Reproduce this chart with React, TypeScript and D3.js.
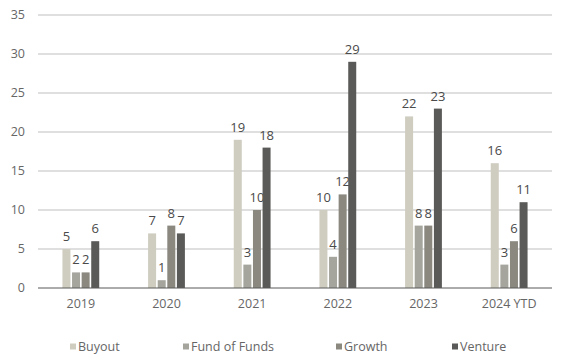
import React from "react";
import * as d3 from "d3";

const categories = ["2019", "2020", "2021", "2022", "2023", "2024 YTD"];
const seriesNames = ["Buyout", "Fund of Funds", "Growth", "Venture"];
const buyout = [5, 7, 19, 10, 22, 16];
const fundOfFunds = [2, 1, 3, 4, 8, 3];
const growth = [2, 8, 10, 12, 8, 6];
const venture = [6, 7, 18, 29, 23, 11];
const yTicks = [0, 5, 10, 15, 20, 25, 30, 35];
const colors = ["#cfcdc0", "#a6a59d", "#8a887f", "#5a5b59"];

const W = 580, H = 359;
const left = 38, right = 552, top = 15, bottom = 288;
const font = "'Open Sans', 'Noto Sans', sans-serif";

export default function App() {
  const series = [buyout, fundOfFunds, growth, venture];
  const x = d3.scaleBand<string>().domain(categories).range([left, right]);
  const y = d3.scaleLinear().domain([0, 35]).range([bottom, top]);
  const stride = 9.6, bw = 8;
  const legendX = [70, 183, 336, 452];
  return (
    <svg width={W} height={H} style={{ position: "absolute", left: 0, top: 0 }}>
      <rect width={W} height={H} fill="#fff" />
      {yTicks.map((t) => (
        <g key={t}>
          {t !== 0 && (
            <line x1={left} x2={right} y1={y(t)} y2={y(t)} stroke="#bfbfbf" strokeWidth={1} />
          )}
          <text x={25} y={y(t)} dy="0.35em" textAnchor="end" fontSize={12.5} fill="#666" fontFamily={font}>
            {t}
          </text>
        </g>
      ))}
      {categories.map((c, i) => {
        const cx = (x(c) as number) + x.bandwidth() / 2;
        return (
          <g key={c}>
            {series.map((s, j) => {
              const bx = cx + (j - 1.5) * stride - bw / 2;
              return (
                <g key={j}>
                  <rect x={bx} y={y(s[i])} width={bw} height={bottom - y(s[i])} fill={colors[j]} />
                  <text x={bx + bw / 2} y={y(s[i]) - 8} textAnchor="middle" fontSize={13} fill="#4a4a4a" fontFamily={font}>
                    {s[i]}
                  </text>
                </g>
              );
            })}
            <text x={cx} y={bottom + 20} textAnchor="middle" fontSize={12.5} fill="#666" fontFamily={font}>
              {c}
            </text>
          </g>
        );
      })}
      <line x1={left} x2={right} y1={bottom} y2={bottom} stroke="#595959" strokeWidth={1} />
      {seriesNames.map((n, j) => (
        <g key={n}>
          <rect x={legendX[j]} y={343.5} width={6} height={6} fill={colors[j]} />
          <text x={legendX[j] + 8} y={351} fontSize={12.5} fill="#666" fontFamily={font}>
            {n}
          </text>
        </g>
      ))}
    </svg>
  );
}
